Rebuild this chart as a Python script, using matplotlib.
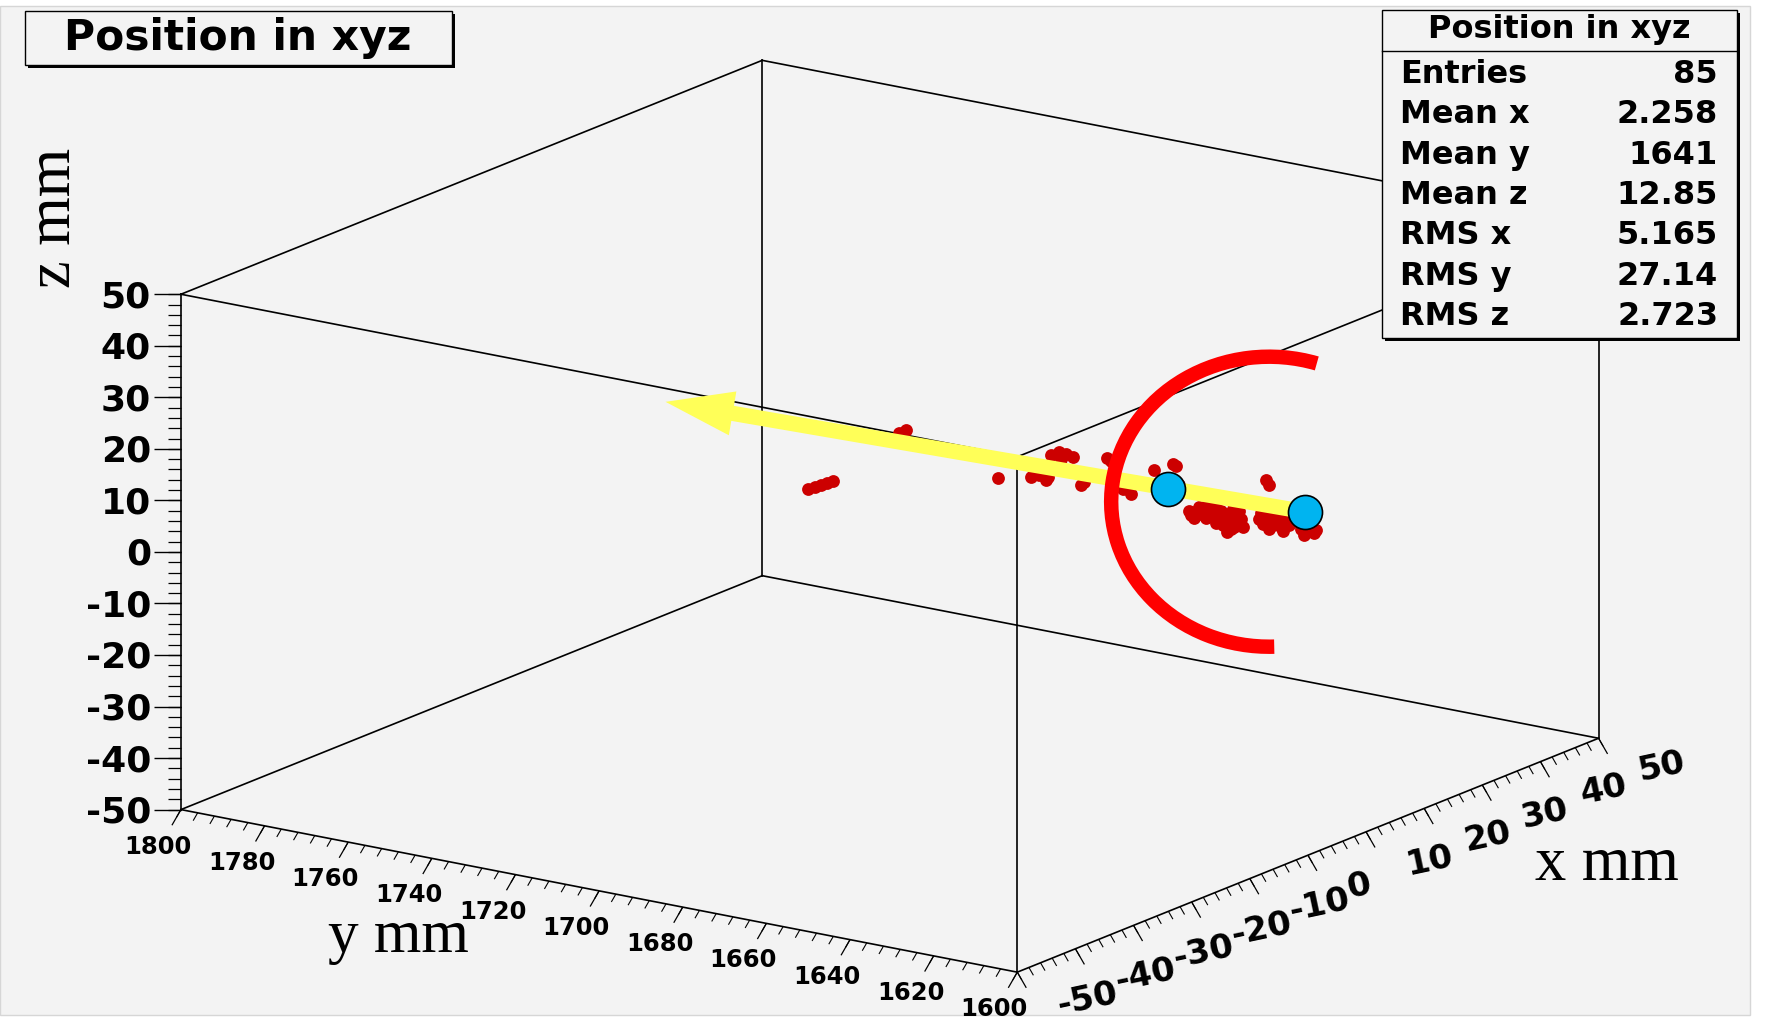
import itertools
import numpy as np
import matplotlib
matplotlib.use("Agg")
import matplotlib.pyplot as plt
from matplotlib.transforms import Affine2D, IdentityTransform
from matplotlib.patches import Rectangle, FancyArrowPatch, Arc, ArrowStyle
from matplotlib.lines import Line2D
from matplotlib.collections import LineCollection
from mpl_toolkits.mplot3d import proj3d

# ---------------- data ----------------
x_mm = [-8, -8, -8, -8, -8,
        3, 3,
        0,
        0, 0, 0, 0,
        4, 4, 4, 4, 4,
        0, -2,
        6, 6,
        2, 2, 2,
        8,
        8, 8,
        2, 2, 2,
        2, 2, 2, 2, 2, 2, 2, 2, 2, 2, 2, 2,
        4, 4, 4, 4, 4, 4, 4, 4, 4, 4, 4, 4, 4, 4, 4,
        6, 6,
        5, 5, 5, 5, 5, 5, 5, 5, 5, 5, 5, 5, 5, 5, 5, 5, 5,
        6, 6, 6, 6, 6, 6, 6, 6, 6]
y_mm = [1708.5, 1706.8, 1705.3, 1703.9, 1702.5,
        1702.0, 1700.3,
        1674.1,
        1666.2, 1664.3, 1662.6, 1662.2,
        1667.0, 1665.1, 1663.4, 1661.7, 1664.6,
        1653.5, 1651.4,
        1656.4, 1655.4,
        1648.6, 1647.0, 1645.1,
        1647.9,
        1643.4, 1642.6,
        1637.9, 1635.5, 1633.6,
        1630.7, 1629.3, 1627.6, 1625.9, 1624.7, 1628.3, 1630.0, 1626.6, 1625.4, 1628.8, 1627.1, 1631.2,
        1626.8, 1625.1, 1623.4, 1622.0, 1625.8, 1623.9, 1621.5, 1622.7, 1624.4, 1626.3, 1621.0, 1624.9,
        1622.5, 1627.5, 1623.2,
        1618.3, 1617.6,
        1618.1, 1616.7, 1615.2, 1613.8, 1612.4, 1617.6, 1615.7, 1613.3, 1618.6, 1614.5, 1611.9, 1617.1,
        1612.8, 1616.2, 1614.3, 1611.4, 1610.9,
        1611.1, 1608.7, 1607.5, 1606.3, 1609.9, 1610.4, 1608.0, 1607.0, 1609.2]
z_mm = [7.6, 8.3, 8.9, 9.5, 10.1,
        14.5, 15.4,
        11.6,
        13.0, 13.7, 13.0, 13.6,
        15.3, 16.2, 16.1, 15.8, 14.9,
        14.0, 14.7,
        15.5, 15.1,
        13.5, 12.8, 12.1,
        13.5,
        15.5, 15.1,
        14.6, 14.2, 15.7,
        10.2, 11.3, 12.4, 13.2, 12.6, 10.9, 9.7, 11.6, 11.0, 12.2, 10.3, 11.0,
        9.3, 10.5, 11.7, 11.6, 8.1, 7.8, 10.1, 8.9, 9.3, 10.9, 8.6, 7.0, 10.7, 8.4, 8.3,
        17.1, 16.4,
        11.2, 10.4, 12.0, 11.3, 10.7, 9.3, 9.2, 9.4, 10.1, 10.2, 12.1, 11.9, 8.7, 8.5, 12.7, 10.1, 11.3,
        10.4, 10.2, 9.8, 9.3, 9.1, 11.7, 11.5, 8.6, 8.0]

# annotation: marked hits and the track direction
marker_x = [2.0, 2.0]
marker_y = [1636.2, 1603.4]
marker_z = [14.5, 15.2]
track_x = [2.0, 2.0]
track_y = [1603.4, 1756.4]
track_z = [15.2, 12.4]

x_range = (-50, 50)
y_range = (1600, 1800)
z_range = (-50, 50)
x_major = list(range(-50, 51, 10))
y_major = list(range(1600, 1801, 20))
z_major = list(range(-50, 51, 10))

title = "Position in xyz"
stats_labels = ["Entries", "Mean x", "Mean y", "Mean z", "RMS x", "RMS y", "RMS z"]
stats_values = ["85", "2.258", "1641", "12.85", "5.165", "27.14", "2.723"]

# ---------------- figure ----------------
W, H = 1770, 1022
fig = plt.figure(figsize=(W / 100, H / 100), dpi=100)
fig.patch.set_facecolor("white")
PX = Affine2D().scale(1, -1).translate(0, H)  # image pixels (y down) -> display

BG = "#f3f3f3"
ROOT_FONT = dict(family=["DejaVu Sans"], weight="bold")
SERIF = dict(family=["Liberation Serif", "DejaVu Serif"])

fig.add_artist(Rectangle((0, 6), 1750, 1009, transform=PX, facecolor=BG,
                         edgecolor="#d6d6d6", lw=1.0, zorder=-10))

ax = fig.add_axes([0.2, 0.0, H / W, 1.0], projection="3d", proj_type="ortho",
                  computed_zorder=False)
ax.view_init(elev=16.24, azim=-145.2)
ax.set_box_aspect((1, 1, 0.527))
ax.set_axis_off()
ax.set_facecolor("none")

corners = list(itertools.product(x_range, y_range, z_range))
for p, q in itertools.combinations(corners, 2):
    if sum(a != b for a, b in zip(p, q)) == 1:
        ax.plot(*zip(p, q), color="black", lw=1.2, zorder=2)

ax.scatter(x_mm, y_mm, z_mm, s=85, c="#cc0000", marker="o", linewidths=0,
           depthshade=False, zorder=3)
ax.set_xlim(*x_range)
ax.set_ylim(*y_range)
ax.set_zlim(*z_range)


def to_px(xs, ys, zs):
    M = ax.get_proj()
    px, py, _ = proj3d.proj_transform(np.asarray(xs, float), np.asarray(ys, float),
                                      np.asarray(zs, float), M)
    d = ax.transData.transform(np.column_stack([px, py]))
    return d[:, 0], H - d[:, 1]


# place the 3-D box where the reference puts it (layout fit)
fit_corners = np.array([[-50, 1800, 50], [-50, 1600, -50], [50, 1600, -50], [50, 1800, 50]], float)
fit_targets = np.array([[181, 296], [1016, 973], [1597, 739], [765, 57]], float)
for _ in range(3):
    fig.canvas.draw()
    u, v = to_px(fit_corners[:, 0], fit_corners[:, 1], fit_corners[:, 2])
    cur = np.column_stack([u, v])
    cm, tm = cur.mean(0), fit_targets.mean(0)
    s = np.sum((cur - cm) * (fit_targets - tm)) / np.sum((cur - cm) ** 2)
    t = tm - s * cm
    bb = ax.get_position()
    side = bb.width * W
    c_old = np.array([(bb.x0 + bb.width / 2) * W, H - (bb.y0 + bb.height / 2) * H])
    c_new = s * c_old + t
    side_n = s * side
    ax.set_position([(c_new[0] - side_n / 2) / W, (H - c_new[1] - side_n / 2) / H,
                     side_n / W, side_n / H])
fig.canvas.draw()


def add_ticks(u, v, direction, length, lw):
    d = np.asarray(direction, float)
    segs = [[(a, b), (a + d[0] * length, b + d[1] * length)] for a, b in zip(u, v)]
    fig.add_artist(LineCollection(segs, transform=PX, colors="black", linewidths=lw, zorder=3))


# z axis (front-left vertical edge)
zmin = np.arange(-50, 51, 2)
u, v = to_px(np.full(len(zmin), -50), np.full(len(zmin), 1800), zmin)
add_ticks(u, v, (-1, 0), 13, 0.9)
u, v = to_px(np.full(len(z_major), -50), np.full(len(z_major), 1800), z_major)
add_ticks(u, v, (-1, 0), 27, 1.0)
for a, b, val in zip(u, v, z_major):
    fig.text(a - 30, b + 13, f"{val}", transform=PX, ha="right", va="baseline",
             fontsize=26, zorder=4, **ROOT_FONT)

# y axis (front-left bottom edge)
ymin = np.arange(1600, 1801, 4)
u, v = to_px(np.full(len(ymin), -50), ymin, np.full(len(ymin), -50))
add_ticks(u, v, (-0.5, 0.87), 9, 0.8)
u, v = to_px(np.full(len(y_major), -50), y_major, np.full(len(y_major), -50))
add_ticks(u, v, (-0.5, 0.87), 18, 0.9)
for a, b, val in zip(u, v, y_major):
    fig.text(a - 23, b + 44, f"{val}", transform=PX, ha="center", va="baseline",
             fontsize=17.5, zorder=4, **ROOT_FONT)

# x axis (front-right bottom edge)
xmin = np.arange(-50, 51, 2)
u, v = to_px(xmin, np.full(len(xmin), 1600), np.full(len(xmin), -50))
add_ticks(u, v, (0.5, 0.87), 9, 0.8)
u, v = to_px(x_major, np.full(len(x_major), 1600), np.full(len(x_major), -50))
add_ticks(u, v, (0.5, 0.87), 18, 0.9)
for a, b, val in zip(u, v, x_major):
    fig.text(a + 39, b + 30, f"{val}", transform=PX, ha="left", va="center_baseline",
             rotation=12, rotation_mode="anchor", fontsize=24.5, zorder=4, **ROOT_FONT)

# axis titles
fig.text(1607, 880, "x mm", transform=PX, ha="center", va="baseline", fontsize=45, zorder=4, **SERIF)
fig.text(398, 952, "y mm", transform=PX, ha="center", va="baseline", fontsize=44, zorder=4, **SERIF)
fig.text(70, 218, "z mm", transform=PX, ha="center", va="baseline", rotation=90,
         rotation_mode="anchor", fontsize=45, zorder=4, **SERIF)

# annotations: track arrow, marked hits, red arc
tu, tv = to_px(track_x, track_y, track_z)
fig.add_artist(FancyArrowPatch((tu[0], tv[0]), (tu[1], tv[1]), transform=PX,
                               arrowstyle=ArrowStyle.Simple(head_length=49, head_width=32, tail_width=11),
                               mutation_scale=1, shrinkA=0, shrinkB=0,
                               facecolor="#ffff58", edgecolor="none", zorder=5))
mu, mv = to_px(marker_x, marker_y, marker_z)
fig.add_artist(Arc((mu[0] + 101, H - (mv[0] + 13)), 316, 290, theta1=71, theta2=272,
                   transform=IdentityTransform(), color="#ff0000", lw=10.4, zorder=6))
fig.add_artist(Line2D(mu, mv, transform=PX, ls="none", marker="o", ms=24.5,
                      mfc="#00b4f0", mec="black", mew=1.2, zorder=7))

# title box
fig.add_artist(Rectangle((28, 14), 427, 54, transform=PX, facecolor="black", edgecolor="none", zorder=8))
fig.add_artist(Rectangle((25, 11), 427, 54, transform=PX, facecolor=BG, edgecolor="black", lw=1.0, zorder=8.1))
fig.text(238, 50, title, transform=PX, ha="center", va="baseline", fontsize=30.5, zorder=8.2, **ROOT_FONT)

# statistics box
fig.add_artist(Rectangle((1385, 13), 355, 328, transform=PX, facecolor="black", edgecolor="none", zorder=8))
fig.add_artist(Rectangle((1382, 10), 355, 328, transform=PX, facecolor=BG, edgecolor="black", lw=1.0, zorder=8.1))
fig.add_artist(Line2D([1382, 1737], [51, 51], transform=PX, color="black", lw=1.0, zorder=8.2))
fig.text(1559.5, 38, title, transform=PX, ha="center", va="baseline", fontsize=23, zorder=8.2, **ROOT_FONT)
for i, (lab, val) in enumerate(zip(stats_labels, stats_values)):
    yb = 83 + i * 40.3
    fig.text(1400, yb, lab, transform=PX, ha="left", va="baseline", fontsize=23, zorder=8.2, **ROOT_FONT)
    fig.text(1718, yb, val, transform=PX, ha="right", va="baseline", fontsize=23, zorder=8.2, **ROOT_FONT)

fig.savefig("out.png", dpi=100, facecolor="white")
